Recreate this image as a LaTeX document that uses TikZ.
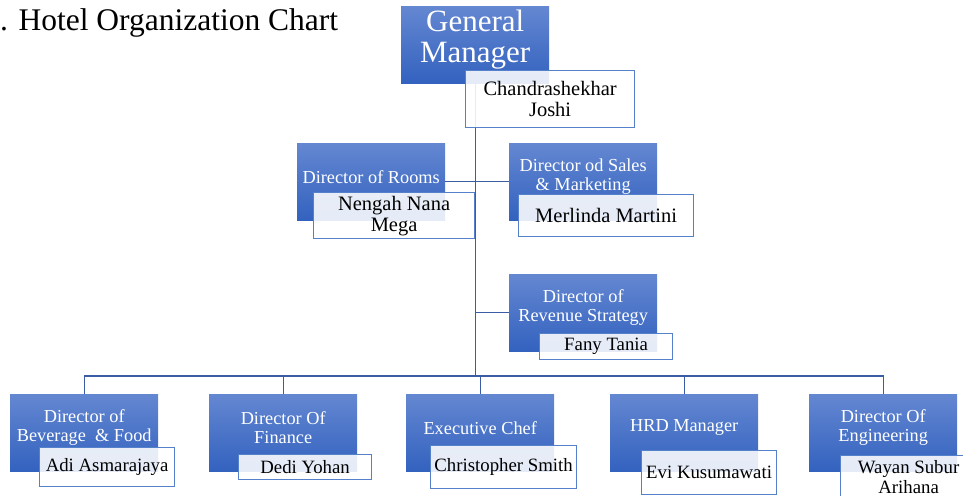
\documentclass[tikz,border=0pt]{standalone}
\usepackage{fontspec}
\setmainfont{Liberation Serif}
\usepackage{xcolor}
\usetikzlibrary{positioning,calc}
\definecolor{roletop}{HTML}{6487D1}
\definecolor{rolebot}{HTML}{3362BF}
\definecolor{orgline}{HTML}{3A5DA5}
\definecolor{nameline}{HTML}{5580CA}
\tikzset{
  role/.style    ={top color=roletop,bottom color=rolebot,draw=none,anchor=north west,minimum width=148,minimum height=77,inner sep=0pt},
  roletext/.style={text=white,align=center,yshift=5pt,font=\fontsize{18.3}{19.5}\selectfont},
  person/.style  ={draw=nameline,line width=1.2pt,fill=white,fill opacity=0.88,text opacity=1,anchor=north west,align=center,inner sep=0pt,font=\fontsize{20.5}{21}\selectfont},
  small/.style   ={font=\fontsize{18.8}{19.5}\selectfont},
  link/.style    ={draw=orgline,line width=1.3pt},
}
\begin{document}
\begin{tikzpicture}[x=1pt,y=-1pt]
  \useasboundingbox (0,0) rectangle (963,495);
  \node[anchor=base west,inner sep=0pt,font=\fontsize{31.5}{32}\selectfont] (title) at (0,31) {. Hotel Organization Chart};

  % positions
  \node[role,label={[roletext,font=\fontsize{31}{31}\selectfont]center:General\\Manager}] (gm) at (401,6) {};
  \node[role,label={[roletext]center:Director of Rooms}] (rooms) at (297,143) {};
  \node[role,label={[roletext]center:Director od Sales\\\& Marketing}] (sales) at (509,143) {};
  \node[role,label={[roletext]center:Director of\\Revenue Strategy}] (rev) at (509,274) {};
  \node[role,label={[roletext]center:Director of\\Beverage \ \& Food}] (bf) at (10,394) {};
  \node[role,label={[roletext]center:Director Of\\Finance}] (fin) at (209,394) {};
  \node[role,label={[roletext]center:Executive Chef}] (chef) at (406,394) {};
  \node[role,label={[roletext]center:HRD Manager}] (hrd) at (610,394) {};
  \node[role,label={[roletext]center:Director Of\\Engineering}] (eng) at (809,394) {};

  % reporting lines
  \coordinate (bus) at (gm.south |- 0,376);
  \draw[link] (gm.south) -- (bus);
  \draw[link] (rooms.east) -- (sales.west);
  \draw[link] (rev.west) -- (rev.west -| gm.south);
  \draw[link] (bf.north) -- (bf.north |- bus) -- (eng.north |- bus) -- (eng.north);
  \foreach \d in {fin,chef,hrd}
    \draw[link] (\d.north) -- (\d.north |- bus);

  % names
  \node[person,minimum width=169,minimum height=57] (gmname) at (465,70) {Chandrashekhar\\Joshi};
  \node[person,minimum width=161,minimum height=46] (roomsname) at (313,192) {Nengah Nana\\Mega};
  \node[person,minimum width=175,minimum height=42] (salesname) at (518,194) {Merlinda Martini};
  \node[person,small,minimum width=133,minimum height=26] (revname) at (539,333) {Fany Tania};
  \node[person,small,minimum width=135,minimum height=39] (bfname) at (39,447) {Adi Asmarajaya};
  \node[person,small,minimum width=133,minimum height=25] (finname) at (238,454) {Dedi Yohan};
  \node[person,small,minimum width=146,minimum height=43] (chefname) at (430,445) {Christopher Smith};
  \node[person,small,minimum width=135,minimum height=44] (hrdname) at (641,450) {Evi Kusumawati};
  \node[person,small,minimum width=136,minimum height=43] (engname) at (840,455) {Wayan Subur\\Arihana};
\end{tikzpicture}
\end{document}
